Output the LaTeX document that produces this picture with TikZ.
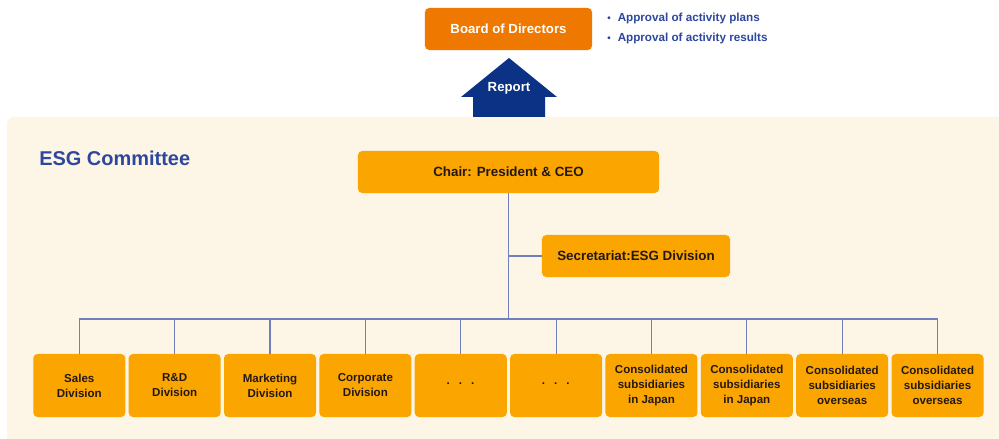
\documentclass[tikz,border=0pt]{standalone}
\usepackage{fontspec}
\setmainfont{Liberation Sans}
\begin{document}
\begin{tikzpicture}[x=0.025cm, y=-0.025cm,
	unit/.style={fill=esgorange, rounded corners=3pt, minimum width=2.3cm, minimum height=1.575cm, inner sep=0pt, align=center, text=esgtext, font=\fontsize{8.2}{10.7}\selectfont\bfseries},
	head/.style={fill=esgorange, rounded corners=3pt, minimum height=1.05cm, inner sep=0pt, text=esgtext, font=\fontsize{9.5}{11}\selectfont\bfseries},
	link/.style={draw=esgline, line width=0.75pt},
	bullet/.style={anchor=west, inner sep=0pt, text=esgblue, font=\fontsize{8.3}{10}\selectfont\bfseries}
	]
		\definecolor{esgcream}{RGB}{253, 246, 231}
		\definecolor{esgorange}{RGB}{251, 166, 0}
		\definecolor{boardorange}{RGB}{238, 120, 0}
		\definecolor{esgnavy}{RGB}{11, 50, 133}
		\definecolor{esgblue}{RGB}{45, 71, 158}
		\definecolor{esgline}{RGB}{112, 128, 190}
		\definecolor{esgtext}{RGB}{35, 24, 21}

	% canvas
	\fill[white] (0,0) rectangle (999,439);
	\useasboundingbox (0,0) rectangle (999,439);
	\fill[esgcream] (999,439) -- (7,439) [rounded corners=5pt] -- (7,117) [sharp corners] -- (999,117) -- cycle;

	% board
	\node[head, fill=boardorange, text=white, minimum width=4.175cm, font=\fontsize{9.4}{11}\selectfont\bfseries] (board) at (508.5,29) {Board of Directors};
	\node[bullet] (plans) at (607,18) {{\scriptsize•}\hspace{5pt}Approval of activity plans};
	\node[bullet] (results) at (607,38) {{\scriptsize•}\hspace{5pt}Approval of activity results};

	% report arrow
	\fill[esgnavy] (509,58) -- (557,97) -- (545,97) -- (545,117) -- (473,117) -- (473,97) -- (461,97) -- cycle;
	\node[text=white, font=\fontsize{9.4}{11}\selectfont\bfseries] (report) at (509,88) {Report};

	% committee
	\node[anchor=west, inner sep=0pt, text=esgblue, font=\fontsize{14.2}{16}\selectfont\bfseries] (committee) at (39,158) {ESG Committee};
	\node[head, minimum width=7.525cm] (chair) at (508.5,172) {Chair: President \& CEO};
	\node[head, minimum width=4.7cm] (sec) at (636,256) {Secretariat:ESG Division};

	% units
	\foreach \i/\txt in {1/{Sales\\Division}, 2/{R\&D\\Division}, 3/{Marketing\\Division}, 4/{Corporate\\Division},
		5/{·\hspace{6pt}·\hspace{6pt}·}, 6/{·\hspace{6pt}·\hspace{6pt}·},
		7/{Consolidated\\subsidiaries\\in Japan}, 8/{Consolidated\\subsidiaries\\in Japan},
		9/{Consolidated\\subsidiaries\\overseas}, 10/{Consolidated\\subsidiaries\\overseas}}
		\node[unit] (u\i) at ({79.3+95.36*(\i-1)}, 385.5) {\txt};

	% links
	\coordinate (bus) at (509,319);
	\draw[link] (chair.south) -- (chair.south |- bus);
	\draw[link] (sec.west) -- (sec.west -| chair.south);
	\draw[link] (u1.north |- bus) -- (u10.north |- bus);
	\foreach \i in {1,...,10}
		\draw[link] (u\i.north) -- (u\i.north |- bus);
\end{tikzpicture}
\end{document}
